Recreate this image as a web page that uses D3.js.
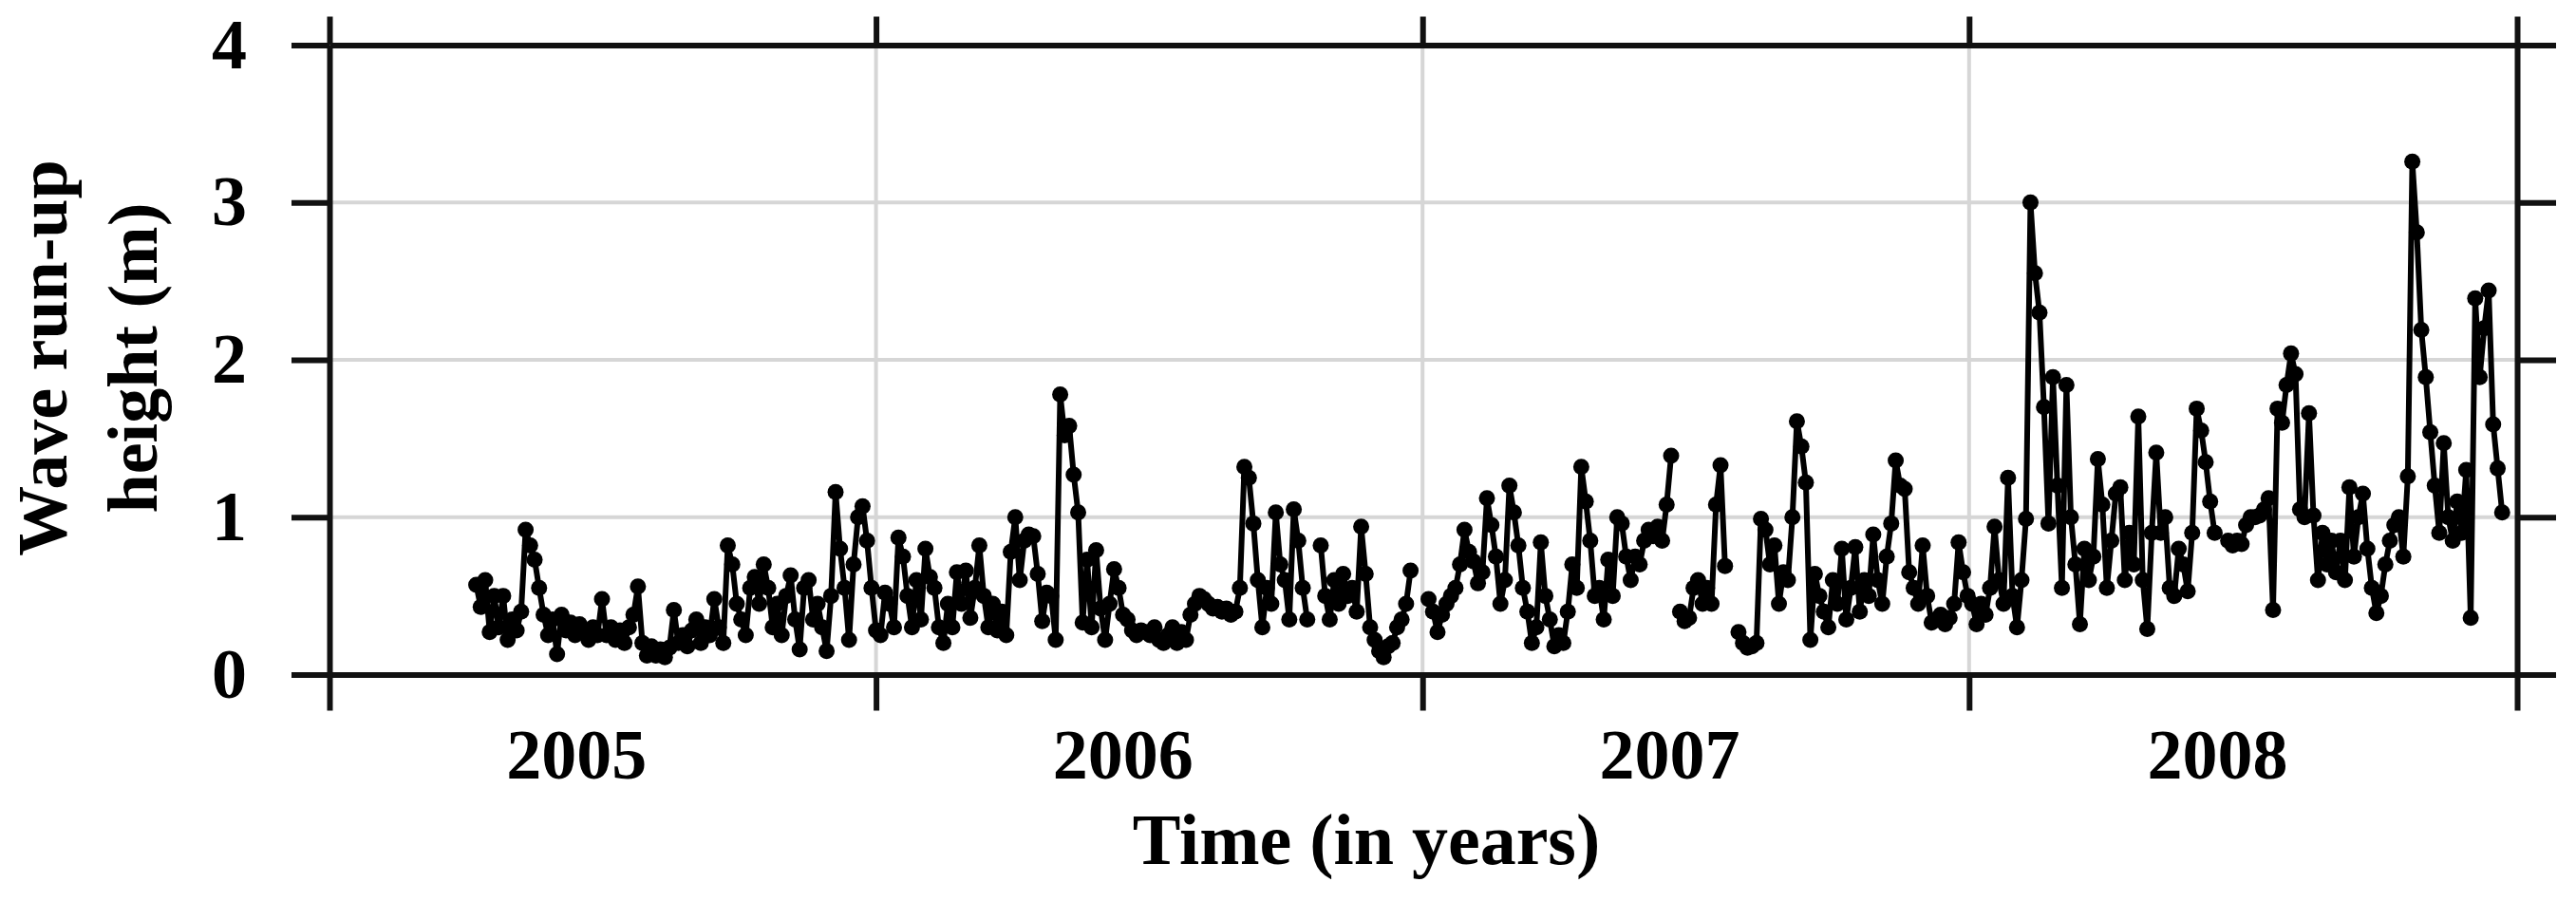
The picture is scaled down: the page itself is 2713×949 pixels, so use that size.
<!DOCTYPE html>
<html>
<head>
<meta charset="utf-8">
<script src="https://cdn.jsdelivr.net/npm/d3@7"></script>
<style>
  body { margin: 0; background: #fff; }
  svg { display: block; }
</style>
</head>
<body>
<div id="chart"></div>
<script>
// ---- data: wave run-up height (m), one reading every 3 days, null = no data ----
var stepDays = 3;
var startDates = ["2005-04-09", "2006-01-01", "2007-01-02", "2008-01-03"];

var runup2005 = [
  0.57, 0.43, 0.6, 0.27, 0.5, 0.3, 0.5, 0.22, 0.35, 0.28,
  0.4, 0.92, 0.82, 0.73, 0.55, 0.38, 0.25, 0.35, 0.13, 0.38,
  0.28, 0.33, 0.25, 0.32, 0.27, 0.22, 0.3, 0.25, 0.48, 0.25,
  0.3, 0.22, 0.28, 0.2, 0.3, 0.38, 0.56, 0.2, 0.12, 0.18,
  0.12, 0.16, 0.11, 0.17, 0.41, 0.2, 0.25, 0.18, 0.28, 0.35,
  0.2, 0.3, 0.25, 0.48, 0.3, 0.2, 0.82, 0.7, 0.45, 0.35,
  0.25, 0.55, 0.62, 0.45, 0.7, 0.55, 0.3, 0.45, 0.25, 0.5,
  0.63, 0.35, 0.16, 0.55, 0.6, 0.35, 0.45, 0.3, 0.15, 0.5,
  1.16, 0.8, 0.55, 0.22, 0.7, 1.0, 1.07, 0.85, 0.55
];
var runup2006 = [
  0.28, 0.25, 0.52, 0.45, 0.3, 0.87, 0.75, 0.5, 0.3, 0.6, 0.35,
  0.8, 0.62, 0.55, 0.3, 0.2, 0.45, 0.3, 0.65, 0.45, 0.66,
  0.36, 0.55, 0.82, 0.5, 0.3, 0.45, 0.28, 0.4, 0.25, 0.78,
  1.0, 0.6, 0.85, 0.89, 0.88, 0.64, 0.34, 0.52, 0.5, 0.22,
  1.78, 1.52, 1.58, 1.27, 1.03, 0.33, 0.73, 0.3, 0.79, 0.42,
  0.22, 0.45, 0.67, 0.55, 0.38, 0.35, 0.28, 0.25, 0.28, 0.27,
  0.25, 0.3, 0.22, 0.2, 0.25, 0.3, 0.2, 0.27, 0.22, 0.38,
  0.45, 0.5, 0.48, 0.45, 0.42, 0.43, 0.4, 0.42, 0.38, 0.4,
  0.55, 1.32, 1.25, 0.96, 0.6, 0.3, 0.55, 0.45, 1.03, 0.7,
  0.6, 0.35, 1.05, 0.85, 0.55, 0.35, null, null, 0.82, 0.5,
  0.35, 0.6, 0.45, 0.64, 0.5, 0.55, 0.4, 0.94, 0.64, 0.3,
  0.22, 0.15, 0.11, 0.18, 0.2, 0.3, 0.35, 0.45, 0.66, null, null
];
var runup2007 = [
  null, 0.48, 0.4, 0.27, 0.38, 0.45, 0.5, 0.55, 0.7,
  0.92, 0.78, 0.72, 0.58, 0.65, 1.12, 0.95, 0.75, 0.45, 0.6,
  1.2, 1.03, 0.82, 0.55, 0.4, 0.2, 0.3, 0.84, 0.5, 0.35,
  0.18, 0.25, 0.2, 0.4, 0.7, 0.55, 1.32, 1.1, 0.85, 0.5,
  0.55, 0.35, 0.73, 0.5, 1.0, 0.96, 0.75, 0.6, 0.75, 0.7,
  0.85, 0.92, 0.88, 0.94, 0.85, 1.08, 1.39, null, 0.4, 0.34,
  0.36, 0.55, 0.6, 0.45, 0.55, 0.45, 1.08, 1.33, 0.69, null,
  null, 0.27, 0.2, 0.17, 0.18, 0.2, 0.99, 0.92, 0.7, 0.82,
  0.45, 0.65, 0.6, 1.0, 1.61, 1.45, 1.22, 0.22, 0.64, 0.5,
  0.4, 0.3, 0.6, 0.45, 0.8, 0.35, 0.55, 0.81, 0.4, 0.6,
  0.5, 0.89, 0.6, 0.45, 0.75, 0.96, 1.36, 1.2, 1.18, 0.65,
  0.55, 0.45, 0.82, 0.5, 0.33, 0.35, 0.38, 0.32, 0.36, 0.45,
  0.84, 0.65, 0.5
];
var runup2008 = [
  0.45, 0.32, 0.45, 0.38, 0.55, 0.94, 0.6,
  0.45, 1.25, 0.5, 0.3, 0.6, 0.99, 3.0, 2.55, 2.3, 1.7,
  0.96, 1.89, 1.2, 0.55, 1.84, 1.0, 0.7, 0.32, 0.8, 0.6,
  0.75, 1.37, 1.08, 0.55, 0.85, 1.15, 1.19, 0.6, 0.9, 0.7,
  1.64, 0.6, 0.29, 0.9, 1.41, 0.9, 1.0, 0.55, 0.5, 0.8,
  0.7, 0.53, 0.9, 1.69, 1.55, 1.35, 1.1, 0.9, null, null,
  0.85, 0.82, 0.85, 0.83, 0.95, 1.0, 1.0, 1.01, 1.05, 1.12,
  0.41, 1.69, 1.6, 1.84, 2.04, 1.91, 1.05, 1.0, 1.66, 1.01,
  0.6, 0.9, 0.7, 0.85, 0.65, 0.85, 0.6, 1.19, 0.75, 1.0,
  1.15, 0.8, 0.55, 0.39, 0.5, 0.7, 0.85, 0.95, 1.0, 0.75,
  1.26, 3.26, 2.81, 2.19, 1.89, 1.54, 1.2, 0.9, 1.47, 1.0,
  0.85, 1.1, 0.9, 1.3, 0.36, 2.39, 1.89, 2.2, 2.44, 1.59, 1.31,
  1.03
];

var years = [2005, 2006, 2007, 2008];
var yearBreaks = [2005, 2006, 2007, 2008, 2009];
var yTicks = [0, 1, 2, 3, 4];
var xTitle = "Time (in years)";
var yTitle = ["Wave run-up", "height (m)"];

// ---- build the series ----
var parseDate = d3.timeParse("%Y-%m-%d");
var series = [];
[runup2005, runup2006, runup2007, runup2008].forEach(function(vals, k) {
    var t0 = parseDate(startDates[k]);
    vals.forEach(function(v, j) {
        series.push({date: d3.timeDay.offset(t0, j * stepDays), v: v});
    });
});

// ---- svg and scales ----
var W = 2713, H = 949;
var plotLeft = 347, plotRight = 2651, plotTop = 47.5, plotBottom = 710.5;
var font = "'Liberation Serif', 'Times New Roman', Times, serif";

var svg = d3.select("#chart").append("svg")
    .attr("width", W)
    .attr("height", H)
    .style("background", "#fff");

var x = d3.scaleTime()
    .domain([new Date(2005, 0, 1), new Date(2009, 0, 1)])
    .range([plotLeft, plotRight]);
var y = d3.scaleLinear()
    .domain([0, 4])
    .range([plotBottom, plotTop]);

// grid
var grid = svg.append("g").attr("class", "grid");
grid.selectAll("line.h")
    .data(yTicks.slice(1, -1))
    .enter().append("line")
    .attr("x1", plotLeft).attr("x2", plotRight)
    .attr("y1", function(d) { return y(d); })
    .attr("y2", function(d) { return y(d); })
    .attr("stroke", "#d6d6d6").attr("stroke-width", 4);
grid.selectAll("line.v")
    .data(yearBreaks.slice(1, -1))
    .enter().append("line")
    .attr("y1", plotTop).attr("y2", plotBottom)
    .attr("x1", function(d) { return x(new Date(d, 0, 1)); })
    .attr("x2", function(d) { return x(new Date(d, 0, 1)); })
    .attr("stroke", "#d6d6d6").attr("stroke-width", 4);

// axes (frame with outward ticks on all sides)
var breakDates = yearBreaks.map(function(yr) { return new Date(yr, 0, 1); });

function styleAxis(g) {
    g.selectAll(".domain").attr("stroke", "#111").attr("stroke-width", 6);
    g.selectAll(".tick line").attr("stroke", "#111").attr("stroke-width", 6);
    g.attr("font-family", font).attr("font-size", 74).attr("font-weight", "bold");
    g.selectAll(".tick text").attr("fill", "#000");
}

svg.append("g")
    .attr("transform", "translate(0," + plotBottom + ")")
    .call(d3.axisBottom(x).tickValues(breakDates).tickSize(38).tickSizeOuter(0).tickFormat(""))
    .call(styleAxis);
svg.append("g")
    .attr("transform", "translate(0," + plotTop + ")")
    .call(d3.axisTop(x).tickValues(breakDates).tickSize(30).tickSizeOuter(0).tickFormat(""))
    .call(styleAxis);
svg.append("g")
    .attr("transform", "translate(" + plotLeft + ",0)")
    .call(d3.axisLeft(y).tickValues(yTicks).tickSize(40).tickPadding(47).tickSizeOuter(0).tickFormat(d3.format("d")))
    .call(styleAxis);
svg.append("g")
    .attr("transform", "translate(" + plotRight + ",0)")
    .call(d3.axisRight(y).tickValues(yTicks).tickSize(41).tickSizeOuter(0).tickFormat(""))
    .call(styleAxis);

// year labels, centred inside each year
svg.append("g").selectAll("text")
    .data(years)
    .enter().append("text")
    .attr("x", function(d) { return x(new Date(d, 5, 15)); })
    .attr("y", 820)
    .attr("text-anchor", "middle")
    .attr("font-family", font).attr("font-size", 74).attr("font-weight", "bold")
    .text(function(d) { return d; });

// axis titles
svg.append("text")
    .attr("x", 1439).attr("y", 910)
    .attr("text-anchor", "middle")
    .attr("font-family", font).attr("font-size", 76).attr("font-weight", "bold")
    .text(xTitle);

svg.append("g").selectAll("text")
    .data(yTitle)
    .enter().append("text")
    .attr("transform", function(d, i) { return "translate(" + (70 + i * 95) + ",377) rotate(-90)"; })
    .attr("text-anchor", "middle")
    .attr("font-family", font).attr("font-size", 74).attr("font-weight", "bold")
    .text(function(d) { return d; });

// data line + markers
var line = d3.line()
    .defined(function(d) { return d.v !== null; })
    .x(function(d) { return x(d.date); })
    .y(function(d) { return y(d.v); });

svg.append("path")
    .datum(series)
    .attr("d", line)
    .attr("fill", "none")
    .attr("stroke", "#000")
    .attr("stroke-width", 6)
    .attr("stroke-linejoin", "round");

svg.append("g").selectAll("circle")
    .data(series.filter(function(d) { return d.v !== null; }))
    .enter().append("circle")
    .attr("cx", function(d) { return x(d.date); })
    .attr("cy", function(d) { return y(d.v); })
    .attr("r", 8.5)
    .attr("fill", "#000");
</script>
</body>
</html>
